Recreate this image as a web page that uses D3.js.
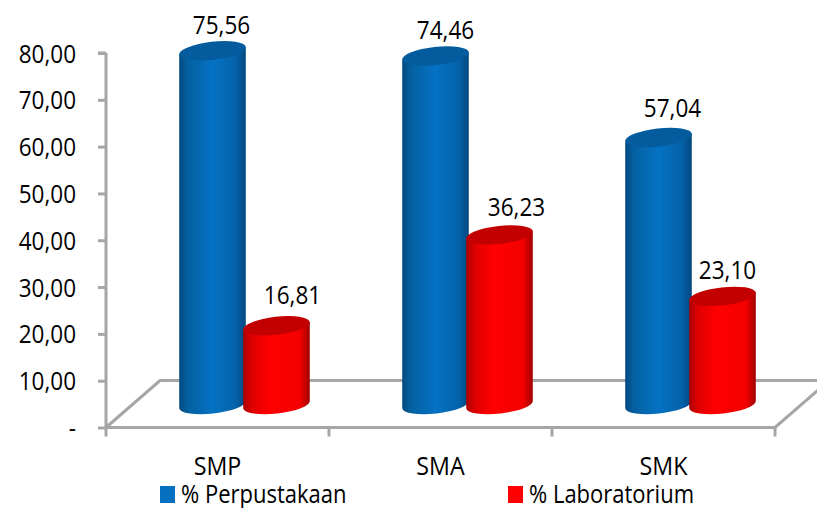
<!DOCTYPE html>
<html><head><meta charset="utf-8">
<script src="https://cdn.jsdelivr.net/npm/d3@7/dist/d3.min.js"></script>
<style>html,body{margin:0;padding:0;background:#fff;overflow:hidden}svg{display:block}text{font-family:"Open Sans",sans-serif;fill:#000}</style>
</head><body><svg id="c" width="817" height="508"></svg>
<script>
const categories = ["SMP", "SMA", "SMK"];
const seriesNames = ["% Perpustakaan", "% Laboratorium"];
const perpustakaan = [75.56, 74.46, 57.04];
const laboratorium = [16.81, 36.23, 23.10];
const yTicks = [0, 10, 20, 30, 40, 50, 60, 70, 80];

const fmt = v => v === 0 ? "-" : d3.format(".2f")(v).replace(".", ",");
const svg = d3.select("#c");
const GREY = "#a6a6a6";
const depthX = 54, depthY = 47;
const y = d3.scaleLinear().domain([0, 80]).range([427.5, 53]);
const x = d3.scaleBand().domain(categories).range([106, 775]);
const xs = d3.scaleBand().domain([0, 1]).range([-64, 64]);

// narrow the installed font to the reference's proportions
function condense(sel, ratio) {
  sel.each(function () {
    const len = this.getComputedTextLength();
    d3.select(this).attr("textLength", len * ratio).attr("lengthAdjust", "spacingAndGlyphs");
  });
}

// floor
const floor = svg.append("g").attr("fill", "none").attr("stroke", GREY).attr("stroke-width", 3);
const x0 = x.range()[0], x1 = x.range()[1], y0 = y(0);
floor.append("path").attr("d", d3.line()([[x0, y0], [x0 + depthX, y0 - depthY], [x1 + depthX, y0 - depthY], [x1, y0], [x0, y0]]));

// axes
const ya = svg.append("g").attr("transform", `translate(${x0},0)`)
  .call(d3.axisLeft(y).tickValues(yTicks).tickFormat(fmt).tickSize(8).tickPadding(22));
ya.selectAll("path,line").attr("stroke", GREY).attr("stroke-width", 3);
ya.select("path").attr("d", `M0,${y(80)}H-8M0,${y(80)}V${y(0)}`);
ya.selectAll("text").attr("font-size", "25px").attr("font-family", '"Open Sans"').attr("fill", "#000").attr("dy", "0.36em").call(condense, 0.9);
const xa = svg.append("g").attr("transform", `translate(0,${y0})`)
  .call(d3.axisBottom(x).tickSize(0).tickPadding(30));
xa.select("path").remove();
xa.selectAll("text").attr("font-size", "25px").attr("font-family", '"Open Sans"').attr("fill", "#000").call(condense, 0.93);
[0, 1, 2, 3].forEach(i => {
  const px = x0 + i * x.step();
  svg.append("line").attr("x1", px).attr("x2", px).attr("y1", y0).attr("y2", y0 + 9)
    .attr("stroke", GREY).attr("stroke-width", 3);
});

// gradients
const defs = svg.append("defs");
function grad(id, stops) {
  const g = defs.append("linearGradient").attr("id", id);
  stops.forEach(s => g.append("stop").attr("offset", s[0]).attr("stop-color", s[1]));
}
grad("gBlue", [[0, "#03487f"], [.12, "#04609f"], [.5, "#0572c4"], [.85, "#0462a8"], [1, "#03487f"]]);
grad("gRed", [[0, "#a80000"], [.12, "#dc0000"], [.4, "#ff0000"], [.85, "#f40000"], [1, "#a00000"]]);
const styles = [{ side: "url(#gBlue)", top: "#045b9e" }, { side: "url(#gRed)", top: "#c20000" }];

// cylinders
const rx = 33.5, ry = 9, rot = -6.5;
const dx = rx * Math.cos(rot * Math.PI / 180), dy = rx * Math.sin(rot * Math.PI / 180);
const barY = v => y(v) - depthY / 2 + 0.5;
const labelNudge = [[9, 16], [10, 17], [14, 5]];
const labelRise = [[26, 31], [26, 28], [29, 26]];
const series = [perpustakaan, laboratorium];
const labels = [];
categories.forEach((c, i) => {
  series.forEach((vals, s) => {
    const v = vals[i];
    const cx = x(c) + x.bandwidth() / 2 + depthX / 2 + xs(s) + xs.bandwidth() / 2;
    const yt = barY(v), yb = barY(0);
    const g = svg.append("g");
    g.append("path")
      .attr("d", `M${cx - dx},${yt - dy}L${cx - dx},${yb - dy}A${rx},${ry} ${rot} 0 0 ${cx + dx},${yb + dy}L${cx + dx},${yt + dy}Z`)
      .attr("fill", styles[s].side);
    g.append("ellipse").attr("rx", rx).attr("ry", ry)
      .attr("transform", `translate(${cx},${yt}) rotate(${rot})`)
      .attr("fill", styles[s].top);
    labels.push({ t: fmt(v), x: cx + labelNudge[i][s], y: yt - labelRise[i][s] });
  });
});
svg.append("g").selectAll("text").data(labels).join("text")
  .attr("x", d => d.x).attr("y", d => d.y).attr("dy", "0.36em")
  .attr("text-anchor", "middle").attr("font-size", "25px").text(d => d.t).call(condense, 0.9);

// legend
const legendX = d3.scalePoint().domain(seriesNames).range([160, 508]);
const legColors = ["#0570c0", "#ff0000"];
seriesNames.forEach((n, i) => {
  const lx = legendX(n);
  svg.append("rect").attr("x", lx).attr("y", 486).attr("width", 15).attr("height", 17).attr("fill", legColors[i]);
  svg.append("text").attr("x", lx + 21).attr("y", 503).attr("font-size", "25px").text(n).call(condense, 0.88);
});
</script></body></html>
